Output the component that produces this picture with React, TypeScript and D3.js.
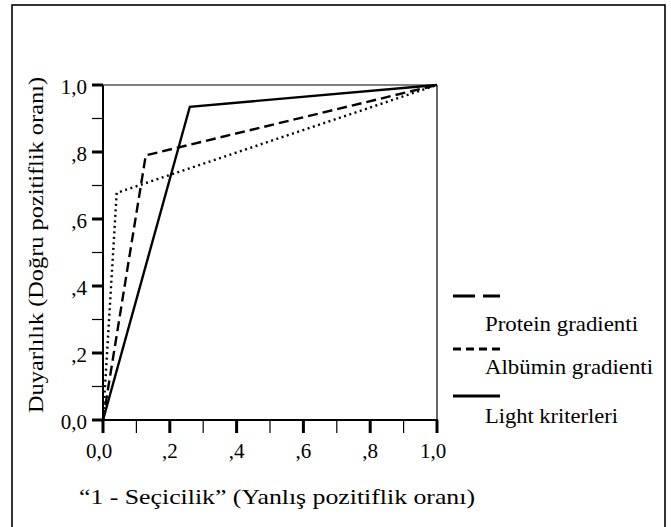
import React from "react";
import * as d3 from "d3";

type Pt = { x: number; y: number };

const seriesNames = ["Protein gradienti", "Albümin gradienti", "Light kriterleri"];
const proteinFPR = [0, 0.128, 1];
const proteinTPR = [0, 0.79, 1];
const albuminFPR = [0, 0.041, 1];
const albuminTPR = [0, 0.678, 1];
const lightFPR = [0, 0.26, 1];
const lightTPR = [0, 0.935, 1];
const majorTicks = [0, 0.2, 0.4, 0.6, 0.8, 1.0];
const minorTicks = [0.1, 0.3, 0.5, 0.7, 0.9];
const tickLabels = ["0,0", ",2", ",4", ",6", ",8", "1,0"];
const xTitle = "\u201C1 - Seçicilik\u201D (Yanlış pozitiflik oranı)";
const yTitle = "Duyarlılık (Doğru pozitiflik oranı)";

const FONT = "'Liberation Serif', 'DejaVu Serif', serif";

const zip = (xs: number[], ys: number[]): Pt[] => xs.map((x, i) => ({ x, y: ys[i] }));

export default function App() {
  const W = 671, H = 527;
  const left = 103, right = 437, top = 85, bottom = 420;
  const x = d3.scaleLinear().domain([0, 1]).range([left, right]);
  const y = d3.scaleLinear().domain([0, 1]).range([bottom, top]);
  const line = d3.line<Pt>().x(d => x(d.x)).y(d => y(d.y));

  const series = [
    { name: seriesNames[0], pts: zip(proteinFPR, proteinTPR), dash: "10,5", legendDash: "22,8", tl: 153 },
    { name: seriesNames[1], pts: zip(albuminFPR, albuminTPR), dash: "2,3.5", legendDash: "8,5", tl: 168 },
    { name: seriesNames[2], pts: zip(lightFPR, lightTPR), dash: "none", legendDash: "none", tl: 133 },
  ];
  const legendY = [296, 349, 396];
  const legendTextY = [331, 374, 423];

  return (
    <svg width={W} height={H} style={{ position: "absolute", left: 0, top: 0, background: "#fff" }}>
      <rect x={12} y={5} width={653} height={540} fill="#fff" stroke="#000" strokeWidth={1.6} />
      {/* plot frame */}
      <line x1={left} x2={right} y1={top} y2={top} stroke="#000" strokeWidth={1.2} />
      <line x1={right} x2={right} y1={top} y2={bottom} stroke="#000" strokeWidth={1.2} />
      <line x1={left} x2={left} y1={top} y2={bottom + 1} stroke="#000" strokeWidth={2} />
      <line x1={left - 1} x2={right + 1} y1={bottom} y2={bottom} stroke="#000" strokeWidth={2} />
      {/* y ticks */}
      {majorTicks.map((t, i) => (
        <g key={"ym" + i}>
          <line x1={left - 11} x2={left} y1={y(t)} y2={y(t)} stroke="#000" strokeWidth={3} />
          <text x={left - 16} y={y(t) + 9} textAnchor="end" fontFamily={FONT} fontSize={21}>{tickLabels[i]}</text>
        </g>
      ))}
      {minorTicks.map((t, i) => (
        <line key={"yn" + i} x1={left - 11} x2={left} y1={y(t)} y2={y(t)} stroke="#000" strokeWidth={1.2} />
      ))}
      {/* x ticks */}
      {majorTicks.map((t, i) => (
        <g key={"xm" + i}>
          <line x1={x(t)} x2={x(t)} y1={bottom} y2={bottom + 13} stroke="#000" strokeWidth={3} />
          <text x={x(t) + (tickLabels[i].length === 3 ? -4 : 0)} y={458} textAnchor="middle" fontFamily={FONT} fontSize={21}>{tickLabels[i]}</text>
        </g>
      ))}
      {minorTicks.map((t, i) => (
        <line key={"xn" + i} x1={x(t)} x2={x(t)} y1={bottom} y2={bottom + 13} stroke="#000" strokeWidth={1.2} />
      ))}
      {/* series */}
      {series.map((s, i) => (
        <path key={"s" + i} d={line(s.pts) || ""} fill="none" stroke="#000" strokeWidth={2.4}
          strokeDasharray={s.dash} />
      ))}
      {/* titles */}
      <text x={277} y={504} textAnchor="middle" fontFamily={FONT} fontSize={21}
        textLength={396} lengthAdjust="spacingAndGlyphs">{xTitle}</text>
      <text transform={`translate(43, 245) rotate(-90)`} textAnchor="middle" fontFamily={FONT} fontSize={21}
        textLength={336} lengthAdjust="spacingAndGlyphs">{yTitle}</text>
      {/* legend */}
      {series.map((s, i) => (
        <g key={"l" + i}>
          <line x1={453} x2={500} y1={legendY[i]} y2={legendY[i]} stroke="#000" strokeWidth={3}
            strokeDasharray={s.legendDash} />
          <text x={485} y={legendTextY[i]} fontFamily={FONT} fontSize={21}
            textLength={s.tl} lengthAdjust="spacingAndGlyphs">{s.name}</text>
        </g>
      ))}
    </svg>
  );
}
